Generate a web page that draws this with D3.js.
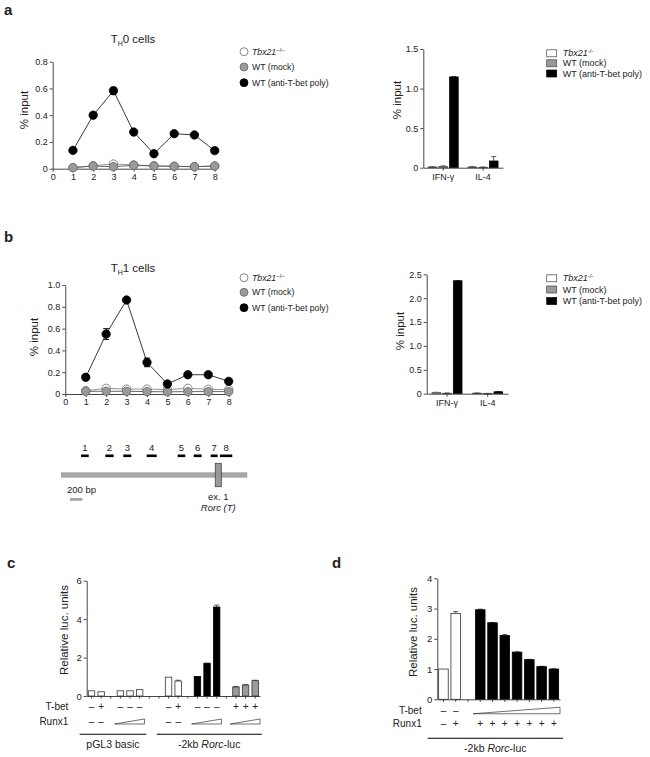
<!DOCTYPE html>
<html><head><meta charset="utf-8">
<script src="https://cdn.jsdelivr.net/npm/d3@7"></script>
<style>
body{margin:0;background:#fff}
svg{display:block}
text{font-family:"Liberation Sans",Arial,Helvetica,sans-serif;fill:#222}
</style>
</head><body>
<svg id="chart" width="650" height="757"></svg>
<script>
// ---------------- DATA ----------------
const regions = [1, 2, 3, 4, 5, 6, 7, 8];
const xTickLabels = [0, 1, 2, 3, 4, 5, 6, 7, 8];
const seriesNames = ["Tbx21", "WT (mock)", "WT (anti-T-bet poly)"];

// TH0 ChIP (panel a, left)
const th0Tbx  = [0.008, 0.022, 0.035, 0.028, 0.022, 0.018, 0.015, 0.020];
const th0Mock = [0.008, 0.020, 0.015, 0.025, 0.020, 0.018, 0.015, 0.020];
const th0Anti = [0.137, 0.400, 0.583, 0.274, 0.112, 0.262, 0.252, 0.135];
const th0AntiErr = [0.02, 0.01, 0.025, 0.01, 0.01, 0.01, 0.01, 0.01];
const th0YTicks = [0, 0.2, 0.4, 0.6, 0.8];

// TH1 ChIP (panel b, left)
const th1Tbx  = [0.030, 0.052, 0.045, 0.045, 0.040, 0.052, 0.043, 0.040];
const th1Mock = [0.025, 0.025, 0.025, 0.022, 0.020, 0.022, 0.022, 0.022];
const th1Anti = [0.153, 0.550, 0.862, 0.290, 0.092, 0.177, 0.177, 0.116];
const th1AntiErr = [0.01, 0.05, 0.01, 0.04, 0.01, 0.01, 0.01, 0.01];
const th1YTicks = [0, 0.2, 0.4, 0.6, 0.8, 1.0];

// control loci (panels a/b, right)
const genes = ["IFN-γ", "IL-4"];
const aBarTbx  = [0.010, 0.010];
const aBarMock = [0.015, 0.005];
const aBarAnti = [1.147, 0.085];
const aBarErr  = [[0.003, 0.003], [0.008, 0.004], [0.005, 0.055]];
const aBarYTicks = [0, 0.5, 1.0, 1.5];
const bBarTbx  = [0.025, 0.012];
const bBarMock = [0.010, 0.005];
const bBarAnti = [2.365, 0.040];
const bBarErr  = [[0.005, 0.003], [0.004, 0.002], [0.005, 0.006]];
const bBarYTicks = [0, 0.5, 1.0, 1.5, 2.0, 2.5];

// Rorc locus map (bp)
const locusLength = 3000;
const fragLabels = ["1", "2", "3", "4", "5", "6", "7", "8"];
const fragStart = [322, 713, 1003, 1380, 1879, 2137, 2410, 2560];
const fragEnd   = [446, 848, 1132, 1541, 2001, 2265, 2523, 2758];
const exonRange = [2484, 2581];
const scaleBarBp = [145, 345];

// panel c luciferase
const cSlots  = [0, 1, 3, 4, 5, 8, 9, 11, 12, 13, 15, 16, 17];
const cValues = [0.27, 0.22, 0.27, 0.27, 0.33, 0.98, 0.78, 1.02, 1.70, 4.63, 0.47, 0.57, 0.80];
const cErr    = [0, 0, 0, 0, 0, 0, 0.04, 0, 0.01, 0.10, 0.03, 0.02, 0.02];
const cFill   = ["white","white","white","white","white","white","white","black","black","black","grey","grey","grey"];
const cTbet   = ["–","+","–","–","–","–","+","–","–","–","+","+","+"];
const cRunx1  = ["–","–","dose","dose","dose","–","–","dose","dose","dose","dose","dose","dose"];
const cYTicks = [0, 2, 4, 6];
const cGroups = [{label: "pGL3 basic", slots: [0, 5]}, {label: "-2kb |Rorc|-luc", slots: [8, 17]}];

// panel d luciferase
const dSlots  = [0, 1, 3, 4, 5, 6, 7, 8, 9];
const dValues = [1.00, 2.84, 2.96, 2.53, 2.11, 1.56, 1.31, 1.08, 1.00];
const dErr    = [0, 0.06, 0.02, 0.01, 0.03, 0.01, 0.01, 0.01, 0.01];
const dFill   = ["white","white","black","black","black","black","black","black","black"];
const dTbet   = ["–","–","dose","dose","dose","dose","dose","dose","dose"];
const dRunx1  = ["–","+","+","+","+","+","+","+","+"];
const dYTicks = [0, 1, 2, 3, 4];

// ---------------- DRAWING ----------------
const svg = d3.select("#chart");
const AX = "#333";
const fillCol = {white: "#fff", grey: "#9a9a9a", black: "#000"};

function styleAxis(g, fs) {
  g.selectAll("path,line").attr("stroke", AX).attr("stroke-width", 0.9);
  g.selectAll("text").attr("fill", "#222").style("font-size", fs + "px")
    .style("font-family", '"Liberation Sans",Arial,sans-serif');
}
const fmt1 = d => d === 0 ? "0" : d3.format(".1f")(d);

function panelLabel(t, x, y) {
  svg.append("text").attr("x", x).attr("y", y).text(t)
    .style("font-size", "15px").style("font-weight", "bold").attr("fill", "#000");
}

function tbxLabel(sel, supStr) {
  sel.append("tspan").text("Tbx21").style("font-style", "italic");
  sel.append("tspan").text(supStr).style("font-size", "6px").attr("dy", -3);
}

function linePanel(p) {
  const x = d3.scaleLinear().domain([0, 8]).range([p.x0, p.x1]);
  const y = d3.scaleLinear().domain([0, p.ymax]).range([p.yb, p.yt]);
  const g = svg.append("g");
  g.append("g").attr("transform", `translate(${p.x0},0)`)
    .call(d3.axisLeft(y).tickValues(p.yticks).tickSize(3).tickSizeOuter(0).tickPadding(2).tickFormat(fmt1))
    .call(a => styleAxis(a, 9));
  g.append("g").attr("transform", `translate(0,${p.yb})`)
    .call(d3.axisBottom(x).tickValues(xTickLabels).tickSize(3).tickSizeOuter(0).tickPadding(2))
    .call(a => styleAxis(a, 9));

  const series = [
    {vals: p.tbx, fill: "#fff", stroke: "#666", line: "#888"},
    {vals: p.mock, fill: "#9a9a9a", stroke: "#666", line: "#555"},
    {vals: p.anti, fill: "#000", stroke: "#000", line: "#222", err: p.antiErr}
  ];
  const line = d3.line().x((d, i) => x(regions[i])).y(d => y(d));
  series.forEach(s => {
    g.append("path").datum(s.vals).attr("d", line).attr("fill", "none")
      .attr("stroke", s.line).attr("stroke-width", 0.9);
    if (s.err) {
      s.vals.forEach((v, i) => {
        const cx = x(regions[i]);
        const yt = y(v + s.err[i]), ybm = y(v - s.err[i]);
        g.append("line").attr("x1", cx).attr("x2", cx).attr("y1", yt).attr("y2", ybm).attr("stroke", "#000").attr("stroke-width", 0.9);
        g.append("line").attr("x1", cx - 3).attr("x2", cx + 3).attr("y1", yt).attr("y2", yt).attr("stroke", "#000").attr("stroke-width", 0.9);
        g.append("line").attr("x1", cx - 3).attr("x2", cx + 3).attr("y1", ybm).attr("y2", ybm).attr("stroke", "#000").attr("stroke-width", 0.9);
      });
    }
    g.selectAll(null).data(s.vals).enter().append("circle")
      .attr("cx", (d, i) => x(regions[i])).attr("cy", d => y(d)).attr("r", 4.2)
      .attr("fill", s.fill).attr("stroke", s.stroke).attr("stroke-width", 0.8);
  });

  // title
  const t = g.append("text").attr("x", p.titleX).attr("y", p.titleY).attr("text-anchor", "middle").style("font-size", "11.5px");
  t.append("tspan").text("T");
  t.append("tspan").text("H").style("font-size", "7px").attr("dy", 3);
  t.append("tspan").text(p.titleRest).attr("dy", -3);

  // y label
  g.append("text").attr("transform", `translate(${p.ylx},${p.lyc}) rotate(-90)`)
    .attr("text-anchor", "middle").style("font-size", "11.5px").text("% input");

  // legend
  series.forEach((s, i) => {
    const ly = p.legY[i];
    g.append("circle").attr("cx", p.legX).attr("cy", ly).attr("r", 4)
      .attr("fill", s.fill).attr("stroke", s.stroke).attr("stroke-width", 0.8);
    const tx = g.append("text").attr("x", p.legX + 8).attr("y", ly).attr("dy", "0.35em").style("font-size", "8.7px");
    if (i === 0) tbxLabel(tx, "−/−"); else tx.text(seriesNames[i]);
  });
}

function groupedBars(p) {
  const x = d3.scaleBand().domain(genes).range([p.x0, p.x1]);
  const gw = 30;
  const xi = d3.scaleBand().domain([0, 1, 2]).range([0, gw]).paddingInner(0.18);
  const y = d3.scaleLinear().domain([0, p.ymax]).range([p.yb, p.yt]);
  const g = svg.append("g");
  const data = [p.tbx, p.mock, p.anti];
  const fills = ["#fff", "#9a9a9a", "#000"];
  data.forEach((vals, si) => {
    vals.forEach((v, gi) => {
      const bx = x(genes[gi]) + (x.bandwidth() - gw) / 2 + xi(si);
      const e = p.err[si][gi];
      const cx = bx + xi.bandwidth() / 2;
      g.append("line").attr("x1", cx).attr("x2", cx).attr("y1", y(v)).attr("y2", y(v + e)).attr("stroke", "#333").attr("stroke-width", 0.8);
      g.append("line").attr("x1", cx - 2.5).attr("x2", cx + 2.5).attr("y1", y(v + e)).attr("y2", y(v + e)).attr("stroke", "#333").attr("stroke-width", 0.8);
      g.append("rect").attr("x", bx).attr("y", y(v)).attr("width", xi.bandwidth())
        .attr("height", Math.max(0.5, y(0) - y(v)))
        .attr("fill", fills[si]).attr("stroke", si === 2 ? "#000" : "#444").attr("stroke-width", 0.7);
    });
  });
  g.append("g").attr("transform", `translate(${p.x0},0)`)
    .call(d3.axisLeft(y).tickValues(p.yticks).tickSize(3).tickSizeOuter(0).tickPadding(2).tickFormat(fmt1))
    .call(a => styleAxis(a, 9));
  g.append("g").attr("transform", `translate(0,${p.yb})`)
    .call(d3.axisBottom(x).tickSize(3).tickSizeOuter(0).tickPadding(3))
    .call(a => styleAxis(a, 9));
  g.append("text").attr("transform", `translate(${p.ylx},${p.lyc}) rotate(-90)`)
    .attr("text-anchor", "middle").style("font-size", "11.5px").text("% input");
  fills.forEach((f, i) => {
    const ly = p.legY[i];
    g.append("rect").attr("x", p.legX).attr("y", ly - 3.5).attr("width", 10).attr("height", 7)
      .attr("fill", f).attr("stroke", i === 2 ? "#000" : "#444").attr("stroke-width", 0.7);
    const tx = g.append("text").attr("x", p.legX + 16).attr("y", ly).attr("dy", "0.35em").style("font-size", "9px");
    if (i === 0) tbxLabel(tx, "-/-"); else tx.text(seriesNames[i]);
  });
}

function richText(sel, str) {
  str.split("|").forEach((part, i) => {
    if (part) sel.append("tspan").text(part).style("font-style", i % 2 ? "italic" : "normal");
  });
}

function lucPanel(p) {
  const x = d3.scaleBand().domain(d3.range(p.nSlots)).range([p.x0, p.x1])
    .paddingInner(p.pad).paddingOuter(p.pad / 2);
  const y = d3.scaleLinear().domain([0, p.ymax]).range([p.yb, p.yt]);
  const g = svg.append("g");
  const cxOf = s => x(s) + x.bandwidth() / 2;
  p.values.forEach((v, i) => {
    const s = p.slots[i], e = p.err[i], cx = cxOf(s);
    if (e > 0) {
      g.append("line").attr("x1", cx).attr("x2", cx).attr("y1", y(v)).attr("y2", y(v + e)).attr("stroke", "#333").attr("stroke-width", 0.8);
      g.append("line").attr("x1", cx - 2.5).attr("x2", cx + 2.5).attr("y1", y(v + e)).attr("y2", y(v + e)).attr("stroke", "#333").attr("stroke-width", 0.8);
    }
    g.append("rect").attr("x", x(s)).attr("y", y(v)).attr("width", x.bandwidth()).attr("height", y(0) - y(v))
      .attr("fill", fillCol[p.fill[i]]).attr("stroke", p.fill[i] === "black" ? "#000" : "#333").attr("stroke-width", 0.8);
  });
  g.append("g").attr("transform", `translate(${p.x0},0)`)
    .call(d3.axisLeft(y).tickValues(p.yticks).tickSize(3).tickSizeOuter(0).tickPadding(2).tickFormat(d3.format("d")))
    .call(a => styleAxis(a, 9.5));
  g.append("g").attr("transform", `translate(0,${p.yb})`)
    .call(d3.axisBottom(x).tickSize(2.5).tickSizeOuter(0).tickFormat(""))
    .call(a => styleAxis(a, 9));
  g.append("text").attr("transform", `translate(${p.ylx},${p.lyc}) rotate(-90)`)
    .attr("text-anchor", "middle").style("font-size", "11.5px").text("Relative luc. units");

  // condition rows
  const rows = [{name: "T-bet", vals: p.tbet, y: p.rowY[0], wh: p.wedgeH[0]},
                {name: "Runx1", vals: p.runx1, y: p.rowY[1], wh: p.wedgeH[1]}];
  rows.forEach(r => {
    g.append("text").attr("x", p.rowLabelX).attr("y", r.y).attr("dy", "0.35em")
      .attr("text-anchor", "end").style("font-size", "10px").text(r.name);
    // signs
    r.vals.forEach((v, i) => {
      if (v !== "dose") {
        g.append("text").attr("x", cxOf(p.slots[i])).attr("y", r.y).attr("dy", "0.35em")
          .attr("text-anchor", "middle").style("font-size", "10px").text(v);
      }
    });
    // wedges: runs of consecutive dose slots
    const runs = [];
    r.vals.forEach((v, i) => {
      if (v !== "dose") return;
      const s = p.slots[i];
      const last = runs[runs.length - 1];
      if (last && last[1] === s - 1) last[1] = s; else runs.push([s, s]);
    });
    const step = x.step();
    runs.forEach(([s0, s1]) => {
      const xl = x(s0) - step * p.pad / 2 - 1, xr = x(s1) + x.bandwidth() + step * p.pad / 2;
      const yb = r.y + r.wh / 2;
      g.append("path").attr("d", `M${xl},${yb} L${xr},${yb} L${xr},${yb - r.wh} Z`)
        .attr("fill", "#fff").attr("stroke", "#333").attr("stroke-width", 0.7);
    });
  });
  // group underlines
  p.groups.forEach(gr => {
    const xl = x(gr.slots[0]) - x.step() * 0.9, xr = x(gr.slots[1]) + x.bandwidth() + x.step() * 0.35;
    g.append("line").attr("x1", xl).attr("x2", xr).attr("y1", p.lineY).attr("y2", p.lineY)
      .attr("stroke", "#000").attr("stroke-width", 1.1);
    const t = g.append("text").attr("x", (xl + xr) / 2).attr("y", p.lineY + 14).attr("text-anchor", "middle").style("font-size", "10.5px");
    richText(t, gr.label);
  });
}

// panel labels
panelLabel("a", 4, 15);
panelLabel("b", 4, 242);
panelLabel("c", 7, 568);
panelLabel("d", 332, 568);

linePanel({x0: 52.7, x1: 214.7, yb: 168.7, yt: 61.7, ymax: 0.8, yticks: th0YTicks,
  tbx: th0Tbx, mock: th0Mock, anti: th0Anti, antiErr: th0AntiErr,
  titleRest: "0 cells", titleX: 133, titleY: 43, ylx: 28, lyc: 110,
  legX: 244, legY: [51.7, 67, 82.7]});

linePanel({x0: 65.3, x1: 228.7, yb: 394, yt: 285, ymax: 1.0, yticks: th1YTicks,
  tbx: th1Tbx, mock: th1Mock, anti: th1Anti, antiErr: th1AntiErr,
  titleRest: "1 cells", titleX: 133, titleY: 272, ylx: 38, lyc: 337,
  legX: 244, legY: [277.7, 292.3, 307.7]});

groupedBars({x0: 423.3, x1: 503, yb: 167.7, yt: 49, ymax: 1.5, yticks: aBarYTicks,
  tbx: aBarTbx, mock: aBarMock, anti: aBarAnti, err: aBarErr,
  ylx: 401, lyc: 100, legX: 546.7, legY: [53.3, 63.3, 73.5]});

groupedBars({x0: 426.7, x1: 508, yb: 393.7, yt: 274.3, ymax: 2.5, yticks: bBarYTicks,
  tbx: bBarTbx, mock: bBarMock, anti: bBarAnti, err: bBarErr,
  ylx: 404, lyc: 331, legX: 546.7, legY: [278.3, 289.5, 301]});

// locus map
(function () {
  const x = d3.scaleLinear().domain([0, locusLength]).range([61, 247.3]);
  const g = svg.append("g");
  g.append("rect").attr("x", x(0)).attr("y", 472.3).attr("width", x(locusLength) - x(0)).attr("height", 5.4).attr("fill", "#a6a6a6");
  fragStart.forEach((s, i) => {
    g.append("rect").attr("x", x(s)).attr("y", 454.5).attr("width", x(fragEnd[i]) - x(s)).attr("height", 2.6).attr("fill", "#000");
    g.append("text").attr("x", (x(s) + x(fragEnd[i])) / 2).attr("y", 450.5).attr("text-anchor", "middle")
      .style("font-size", "9.5px").text(fragLabels[i]);
  });
  g.append("rect").attr("x", x(exonRange[0])).attr("y", 463.3).attr("width", x(exonRange[1]) - x(exonRange[0]))
    .attr("height", 23.4).attr("fill", "#9a9a9a").attr("stroke", "#444").attr("stroke-width", 0.8);
  g.append("rect").attr("x", x(scaleBarBp[0])).attr("y", 498).attr("width", x(scaleBarBp[1]) - x(scaleBarBp[0])).attr("height", 2.8).attr("fill", "#a6a6a6");
  g.append("text").attr("x", x(scaleBarBp[0]) - 3).attr("y", 492.5).style("font-size", "9.5px").text("200 bp");
  const ec = (x(exonRange[0]) + x(exonRange[1])) / 2;
  g.append("text").attr("x", ec).attr("y", 500).attr("text-anchor", "middle").style("font-size", "9.5px").text("ex. 1");
  g.append("text").attr("x", ec).attr("y", 510.5).attr("text-anchor", "middle").style("font-size", "9.5px")
    .style("font-style", "italic").text("Rorc (T)");
})();

lucPanel({x0: 86.7, x1: 260, nSlots: 18, pad: 0.33, yb: 696, yt: 580.7, ymax: 6, yticks: cYTicks,
  slots: cSlots, values: cValues, err: cErr, fill: cFill, tbet: cTbet, runx1: cRunx1,
  ylx: 68, lyc: 630, rowLabelX: 68.3, rowY: [706, 721.5], wedgeH: [5, 5],
  groups: cGroups, lineY: 734.3});

lucPanel({x0: 437.3, x1: 560, nSlots: 10, pad: 0.22, yb: 699.3, yt: 578.3, ymax: 4, yticks: dYTicks,
  slots: dSlots, values: dValues, err: dErr, fill: dFill, tbet: dTbet, runx1: dRunx1,
  ylx: 417, lyc: 632, rowLabelX: 421.7, rowY: [710.5, 723.3], wedgeH: [6.5, 5],
  groups: [{label: "-2kb |Rorc|-luc", slots: [0, 9]}], lineY: 738.3});
</script>
</body></html>
